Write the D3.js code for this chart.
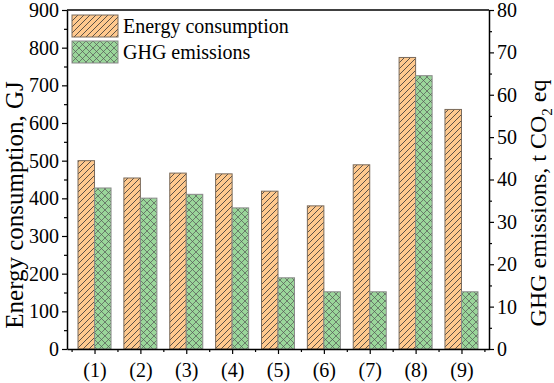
<!DOCTYPE html>
<html>
<head>
<meta charset="utf-8">
<script src="https://cdn.jsdelivr.net/npm/d3@7"></script>
<style>
  body { margin: 0; background: #fff; }
  svg text { font-family: "Liberation Serif", "Times New Roman", serif; fill: #000; }
</style>
</head>
<body>
<div id="chart"></div>
<script>
// data
const categories = ["(1)", "(2)", "(3)", "(4)", "(5)", "(6)", "(7)", "(8)", "(9)"];
const energy = [500, 454, 467, 465, 419, 380, 489, 774, 636];      // GJ
const ghg = [38.0, 35.6, 36.5, 33.3, 16.8, 13.5, 13.5, 64.5, 13.5]; // t CO2 eq
const leftTicks = [0, 100, 200, 300, 400, 500, 600, 700, 800, 900];
const rightTicks = [0, 10, 20, 30, 40, 50, 60, 70, 80];

function main() {
    const width = 554, height = 383;
    const left = 67, right = 489, top = 10, bottom = 349;
    const barW = 0.36;

    const svg = d3.select("#chart").append("svg")
        .attr("width", width)
        .attr("height", height)

    const defs = svg.append("defs");
    const p1 = defs.append("pattern")
        .attr("id", "hatch")
        .attr("patternUnits", "userSpaceOnUse")
        .attr("width", 6).attr("height", 6)
    p1.append("rect").attr("width", 6).attr("height", 6).attr("fill", "#ffc98e")
    p1.append("path")
        .attr("d", "M0,6 L6,0 M-1,1 L1,-1 M5,7 L7,5")
        .attr("stroke", "#333").attr("stroke-width", 0.8)

    const p2 = defs.append("pattern")
        .attr("id", "cross")
        .attr("patternUnits", "userSpaceOnUse")
        .attr("width", 7).attr("height", 7)
    p2.append("rect").attr("width", 7).attr("height", 7).attr("fill", "#9ad69a")
    p2.append("path")
        .attr("d", "M0,7 L7,0 M0,0 L7,7 M-1,1 L1,-1 M6,8 L8,6 M-1,6 L1,8 M6,-1 L8,1")
        .attr("stroke", "#555").attr("stroke-width", 0.7)

    const x = d3.scaleLinear().domain([0.4, 9.6]).range([left, right]);
    const yL = d3.scaleLinear().domain([0, 900]).range([bottom, top]);
    const yR = d3.scaleLinear().domain([0, 80]).range([bottom, top]);

    // bars
    svg.selectAll(".bar-e")
        .data(energy)
        .enter()
        .append("rect")
        .attr("x", (d, i) => x(i + 1 - barW))
        .attr("y", d => yL(d))
        .attr("width", x(1 + barW) - x(1))
        .attr("height", d => yL(0) - yL(d))
        .attr("fill", "url(#hatch)")
        .attr("stroke", "#7a6a5a")
        .attr("stroke-width", 1)

    svg.selectAll(".bar-g")
        .data(ghg)
        .enter()
        .append("rect")
        .attr("x", (d, i) => x(i + 1))
        .attr("y", d => yR(d))
        .attr("width", x(1 + barW) - x(1))
        .attr("height", d => yR(0) - yR(d))
        .attr("fill", "url(#cross)")
        .attr("stroke", "#8a8a8a")
        .attr("stroke-width", 1)

    // axes
    const minorL = d3.range(50, 900, 100);
    const minorR = d3.range(5, 80, 10);
    const minorX = d3.range(0.5, 10, 1);

    const gl = svg.append("g").attr("transform", "translate(" + left + ",0)");
    gl.call(d3.axisLeft(yL).tickValues(minorL).tickSize(3).tickFormat(""));
    gl.call(g => g.selectAll(".domain").remove());
    svg.append("g").attr("transform", "translate(" + left + ",0)")
        .call(d3.axisLeft(yL).tickValues(leftTicks).tickSize(5).tickSizeOuter(0).tickPadding(3));

    const gr = svg.append("g").attr("transform", "translate(" + right + ",0)");
    gr.call(d3.axisRight(yR).tickValues(minorR).tickSize(3).tickFormat(""));
    gr.call(g => g.selectAll(".domain").remove());
    svg.append("g").attr("transform", "translate(" + right + ",0)")
        .call(d3.axisRight(yR).tickValues(rightTicks).tickSize(5).tickSizeOuter(0).tickPadding(3));

    const gb = svg.append("g").attr("transform", "translate(0," + bottom + ")");
    gb.call(d3.axisBottom(x).tickValues(minorX).tickSize(3).tickFormat(""));
    gb.call(g => g.selectAll(".domain").remove());
    svg.append("g").attr("transform", "translate(0," + bottom + ")")
        .call(d3.axisBottom(x).tickValues(d3.range(1, 10)).tickSize(5).tickSizeOuter(0)
            .tickPadding(9).tickFormat(d => categories[d - 1]));

    svg.append("line")
        .attr("x1", left).attr("x2", right)
        .attr("y1", top).attr("y2", top)
        .attr("stroke", "#000").attr("stroke-width", 1.5)

    svg.selectAll(".domain").attr("stroke-width", 1.5)
    svg.selectAll(".tick line").attr("stroke-width", 1.2)
    svg.selectAll(".tick text").style("font-size", "20px")

    // axis titles
    svg.append("text")
        .attr("transform", "translate(23,205) rotate(-90)")
        .attr("text-anchor", "middle")
        .style("font-size", "25px")
        .text("Energy consumption, GJ")

    const rt = svg.append("text")
        .attr("transform", "translate(546,203) rotate(-90)")
        .attr("text-anchor", "middle")
        .style("font-size", "24px")
    rt.append("tspan").text("GHG emissions, t CO")
    rt.append("tspan").text("2").attr("dy", 6).style("font-size", "15px")
    rt.append("tspan").text(" eq").attr("dy", -6)

    // legend
    const legend = [
        { label: "Energy consumption", fill: "url(#hatch)", stroke: "#7a6a5a" },
        { label: "GHG emissions", fill: "url(#cross)", stroke: "#8a8a8a" }
    ];
    const lg = svg.selectAll(".legend")
        .data(legend)
        .enter()
        .append("g")
        .attr("transform", (d, i) => "translate(72," + (15 + i * 26) + ")")
    lg.append("rect")
        .attr("width", 46).attr("height", 22)
        .attr("fill", d => d.fill)
        .attr("stroke", d => d.stroke)
    lg.append("text")
        .attr("x", 51).attr("y", 18)
        .style("font-size", "20px")
        .text(d => d.label)
}
main();
</script>
</body>
</html>
